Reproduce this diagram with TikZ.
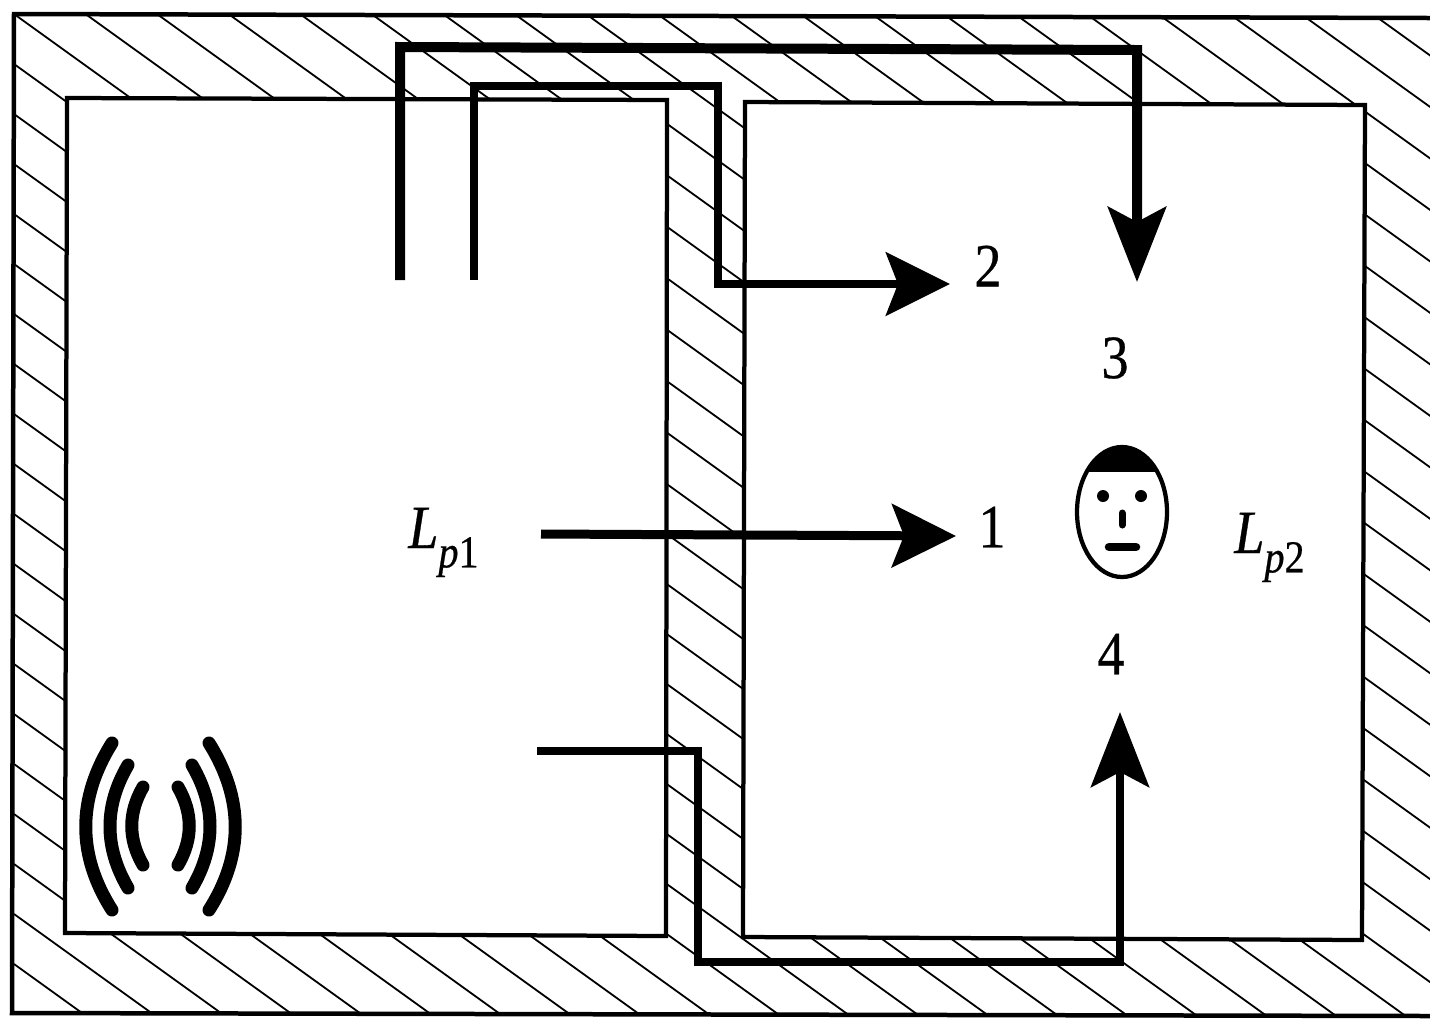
\documentclass[tikz,border=0pt]{standalone}
\usepackage{fontspec}
\setmainfont[FakeStretch=0.88,FakeBold=0.5,ItalicFeatures={FakeBold=0.5}]{Liberation Serif}
\usetikzlibrary{arrows.meta}
\newcommand{\sublabel}[2]{\textit{#1}\raisebox{-11pt}{\fontsize{26}{26}\selectfont\textit{p}#2}}
\tikzset{
  wall/.style={draw=black,line width=0.09cm,line join=miter},
  room/.style={draw=black,fill=white,line width=0.085cm,line join=miter},
  hatchline/.style={draw=black,line width=0.036cm},
  duct/.style={draw=black,line join=miter},
  headshort/.style={-{Stealth[length=1.28cm,width=1.26cm,inset=0.24cm]}},
  headtall/.style={-{Stealth[length=1.5cm,width=1.16cm,inset=0.3cm]}},
  wave/.style={draw=black,line cap=round,line width=0.26cm},
  lab/.style={font=\fontsize{35}{35}\selectfont,inner sep=0pt,text=black},
}
\begin{document}
\begin{tikzpicture}[x=0.02cm,y=-0.02cm]
\useasboundingbox (0,0) rectangle (1430,1019);
\fill[white] (0,0) rectangle (1430,1019);
% hatching of the walls
\begin{scope}
  \clip (14,14) -- (1430,18) -- (1430,1016) -- (12,1013) -- cycle;
  \foreach \k in {0,...,20} {
    \draw[hatchline] ({14+71.5*\k},14) -- ++(1500,1080);
  }
  \foreach \k in {1,...,20} {
    \draw[hatchline] (14,{14+50*\k}) -- ++(1500,1080);
  }
\end{scope}
% rooms
\path[room] (67,98) -- (667,100) -- (666,936) -- (65,933) -- cycle;
\path[room] (745,102) -- (1365,105) -- (1362,940) -- (743,937) -- cycle;
% outer wall
\path[wall] (1430,18) -- (14,14) -- (12,1013) -- (1430,1016);
% connector end points
\coordinate (s3) at (400,280); \coordinate (c3a) at (400,47); \coordinate (c3b) at (1137,50); \coordinate (t3) at (1137,282);
\coordinate (s2) at (474,280); \coordinate (c2a) at (474,86); \coordinate (c2b) at (718,86); \coordinate (c2c) at (718,284); \coordinate (t2) at (950,284);
\coordinate (s1) at (541,534); \coordinate (t1) at (956,536);
\coordinate (s4) at (537,751); \coordinate (c4a) at (698,751); \coordinate (c4b) at (698,962); \coordinate (c4c) at (1120,962); \coordinate (t4) at (1120,712);
% connectors
\draw[duct,headtall,line width=0.2cm] (s3) -- (c3a) -- (c3b) -- (t3);
\draw[duct,headshort,line width=0.17cm] (s2) -- (c2a) -- (c2b) -- (c2c) -- (t2);
\draw[duct,headshort,line width=0.18cm] (s1) -- (t1);
\draw[duct,headtall,line width=0.17cm] (s4) -- (c4a) -- (c4b) -- (c4c) -- (t4);
% labels
\node[lab,anchor=center] (n2) at (988,266) {2};
\node[lab,anchor=center] (n3) at (1115,358) {3};
\node[lab,anchor=center] (n1) at (992,527) {1};
\node[lab,anchor=center] (n4) at (1111,654) {4};
\node[lab,anchor=base west] (lp1) at (408,548) {\sublabel{L}{1}};
\node[lab,anchor=base west] (lp2) at (1234,553) {\sublabel{L}{2}};
% sound waves
\draw[wave] (112,743) .. controls (77,799) and (77,855) .. (112,910);
\draw[wave] (128,765) .. controls (104,806) and (104,847) .. (128,888);
\draw[wave] (143,787) .. controls (128,813) and (128,839) .. (143,865);
\draw[wave] (209,743) .. controls (244,799) and (244,855) .. (209,910);
\draw[wave] (192,765) .. controls (216,806) and (216,847) .. (192,888);
\draw[wave] (178,787) .. controls (193,813) and (193,839) .. (178,865);
% face
\begin{scope}
  \clip (1122,512) ellipse [x radius=46,y radius=66];
  \fill[black] (1070,440) rectangle (1175,472);
\end{scope}
\draw[black,line width=0.085cm] (1122,512) ellipse [x radius=45,y radius=65];
\fill[black] (1103,496) circle [radius=6];
\fill[black] (1141,496) circle [radius=6];
\draw[black,line cap=round,line width=0.14cm] (1122,513) -- (1122,525);
\draw[black,line cap=round,line width=0.17cm] (1109,547) -- (1136,547);
\end{tikzpicture}
\end{document}
